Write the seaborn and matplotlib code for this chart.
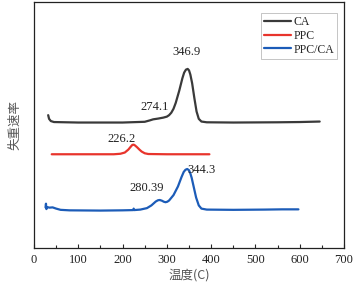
import matplotlib
matplotlib.use("Agg")
import matplotlib.pyplot as plt
import seaborn as sns
import pandas as pd

# ---- data ----
ca_t = [32, 34, 38, 45, 100, 200, 250, 262, 269, 280, 292, 300, 305, 310, 315, 320, 328, 335, 339, 343, 347, 350, 353, 357, 362, 367, 372, 378, 390, 450, 550, 600, 645]
ca_v = [54.0, 52.5, 51.6, 51.2, 51.0, 51.0, 51.3, 51.9, 52.3, 52.6, 53.0, 53.4, 54.0, 55.0, 56.6, 59.0, 64.0, 69.0, 71.3, 72.5, 72.8, 72.2, 70.5, 67.0, 61.0, 55.5, 52.5, 51.4, 51.1, 51.0, 51.1, 51.2, 51.4]

ppc_t = [40, 100, 180, 195, 205, 213, 219, 222, 225, 228, 233, 238, 243, 250, 258, 300, 396]
ppc_v = [38.1, 38.1, 38.1, 38.3, 38.8, 40.0, 41.3, 41.9, 42.0, 41.7, 40.9, 40.0, 39.2, 38.5, 38.2, 38.1, 38.1]

mix_t = [26, 27, 28, 30, 35, 42, 50, 60, 80, 150, 200, 224, 225, 226, 240, 255, 265, 275, 280, 284, 289, 293, 297, 301, 305, 315, 325, 333, 338, 342, 346, 350, 353, 356, 361, 366, 372, 378, 390, 450, 520, 560, 597]
mix_v = [16.5, 18.0, 15.8, 16.6, 16.4, 16.5, 16.0, 15.5, 15.3, 15.2, 15.3, 15.4, 16.0, 15.4, 15.6, 16.2, 17.3, 18.9, 19.4, 19.5, 19.2, 18.8, 18.6, 18.8, 19.3, 21.5, 25.0, 28.8, 30.9, 31.8, 32.1, 31.6, 30.3, 28.5, 24.5, 20.5, 17.3, 16.0, 15.6, 15.5, 15.6, 15.7, 15.7]

series_names = ["CA", "PPC", "PPC/CA"]
peak_labels = ["346.9", "274.1", "226.2", "344.3", "280.39"]
peak_label_x = [345, 273, 198, 378, 254]
peak_label_y = [79.7, 57.4, 44.3, 31.7, 24.3]
x_ticks = [0, 100, 200, 300, 400, 500, 600, 700]

df = pd.concat([
    pd.DataFrame({"T": ca_t, "v": ca_v, "s": series_names[0]}),
    pd.DataFrame({"T": ppc_t, "v": ppc_v, "s": series_names[1]}),
    pd.DataFrame({"T": mix_t, "v": mix_v, "s": series_names[2]}),
])

sns.set_style("ticks")
plt.rcParams["font.family"] = ["Liberation Serif", "Noto Sans CJK SC"]
SERIF = ["Liberation Serif"]
CJK = ["Noto Sans CJK SC", "Liberation Serif"]

fig = plt.figure(figsize=(3.58, 2.89), dpi=100)
ax = fig.add_axes([0.095, 0.142, 0.866, 0.851])

palette = {"CA": "#3a3a3a", "PPC": "#e8342c", "PPC/CA": "#1c5cb8"}
sns.lineplot(data=df, x="T", y="v", hue="s", palette=palette, sort=False,
             estimator=None, linewidth=1.6, ax=ax)

for lab, x, y in zip(peak_labels, peak_label_x, peak_label_y):
    ax.text(x, y, lab, ha="center", va="center", fontsize=9, color="#222222",
            family=SERIF)

ax.set_xlim(0, 700)
ax.set_ylim(0, 100)
ax.set_xticks(x_ticks)
ax.set_xticks(range(50, 700, 100), minor=True)
ax.set_xticklabels([str(t) for t in x_ticks], fontsize=9, color="#222222",
                   family=SERIF)
ax.set_yticks([])
ax.tick_params(axis="x", which="major", direction="in", length=3, width=0.8, pad=4)
ax.tick_params(axis="x", which="minor", direction="in", length=2, width=0.8)
for sp in ax.spines.values():
    sp.set_linewidth(0.9)
    sp.set_color("#222222")

ax.set_xlabel("温度(C)", fontsize=9, color="#555555", family=CJK, labelpad=2)
ax.set_ylabel("失重速率", fontsize=9, color="#555555", family=CJK, labelpad=9)

leg = ax.legend(loc="upper right", bbox_to_anchor=(0.977, 0.955),
                prop={"family": SERIF, "size": 8.5},
                frameon=True, fancybox=False, edgecolor="#aaaaaa",
                handlelength=2.3, borderpad=0.25, labelspacing=0.15,
                handletextpad=0.2, borderaxespad=0.0, title=None)
leg.get_frame().set_linewidth(0.6)

fig.savefig("out.png", dpi=100)
